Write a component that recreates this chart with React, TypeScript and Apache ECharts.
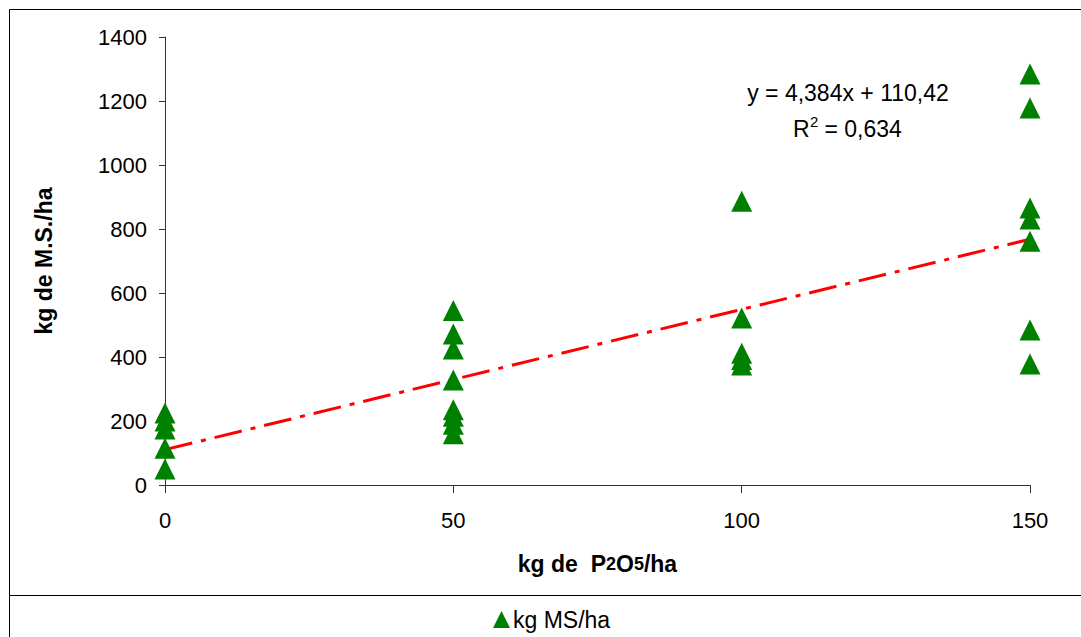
import React, { useEffect, useRef } from "react";
import * as echarts from "echarts";

const xTicks = [0, 50, 100, 150];
const yTicks = [0, 200, 400, 600, 800, 1000, 1200, 1400];
const dose0 = [225, 200, 175, 115, 50];
const dose50 = [545, 472, 425, 328, 235, 215, 190, 160];
const dose100 = [887, 522, 412, 392, 375];
const dose150 = [1284, 1178, 866, 831, 762, 484, 378];
const slope = 4.384;
const intercept = 110.42;
const seriesName = "kg MS/ha";
const eqText = "y = 4,384x + 110,42";
const r2Text = " = 0,634";

const FONT = "Liberation Sans, Arial, sans-serif";

export default function App() {
  const ref = useRef<HTMLDivElement>(null);
  useEffect(() => {
    if (!ref.current) return;
    const chart = echarts.init(ref.current, undefined, { renderer: "svg" });
    const groups = [dose0, dose50, dose100, dose150];
    const points: number[][] = [];
    groups.forEach((vals, i) => vals.forEach((v) => points.push([xTicks[i], v])));
    const xMin = xTicks[0];
    const xMax = xTicks[xTicks.length - 1];
    const trend = [
      [xMin, intercept + slope * xMin],
      [xMax, intercept + slope * xMax],
    ];
    chart.setOption({
      animation: false,
      backgroundColor: "#fff",
      textStyle: { fontFamily: FONT },
      grid: { left: 165, right: 51, top: 37, bottom: 152 },
      xAxis: {
        type: "value",
        min: xMin,
        max: xMax,
        interval: 50,
        name: "kg de  P{s|2}O{s|5}/ha",
        nameLocation: "middle",
        nameGap: 67,
        nameTextStyle: {
          fontFamily: FONT,
          fontSize: 23,
          fontWeight: "bold",
          color: "#000",
          rich: { s: { fontFamily: FONT, fontSize: 18, fontWeight: "bold", color: "#000" } },
        },
        axisLine: { show: true, lineStyle: { color: "#333", width: 1 } },
        axisTick: { show: true, inside: false, length: 8, lineStyle: { color: "#333" } },
        axisLabel: { fontFamily: FONT, fontSize: 22, color: "#000", margin: 24, formatter: (v: number) => String(v) },
        splitLine: { show: false },
      },
      yAxis: {
        type: "value",
        min: yTicks[0],
        max: yTicks[yTicks.length - 1],
        interval: 200,
        name: "kg de M.S./ha",
        nameLocation: "middle",
        nameGap: 110,
        nameTextStyle: { fontFamily: FONT, fontSize: 23, fontWeight: "bold", color: "#000" },
        axisLine: { show: true, lineStyle: { color: "#333", width: 1 } },
        axisTick: { show: true, inside: false, length: 6, lineStyle: { color: "#333" } },
        axisLabel: { fontFamily: FONT, fontSize: 22, color: "#000", margin: 18, formatter: (v: number) => String(v) },
        splitLine: { show: false },
      },
      legend: {
        data: [seriesName],
        icon: "triangle",
        itemWidth: 17,
        itemHeight: 17,
        itemGap: 4,
        left: 488,
        top: 603,
        textStyle: { fontFamily: FONT, fontSize: 23, color: "#000", padding: [0, 0, 0, -2] },
      },
      series: [
        {
          name: seriesName,
          type: "scatter",
          data: points,
          symbol: "triangle",
          symbolSize: [21, 21],
          itemStyle: { color: "#008000", opacity: 1 },
          z: 3,
        },
        {
          name: "trend",
          type: "line",
          data: trend,
          symbol: "none",
          lineStyle: { color: "#ff0000", width: 3, type: [28, 9, 5, 9] },
          z: 2,
        },
      ],
      graphic: [
        {
          type: "rect",
          shape: { x: 9.5, y: 9.5, width: 1200, height: 800 },
          style: { fill: "none", stroke: "#000", lineWidth: 1 },
          silent: true,
        },
        {
          type: "line",
          shape: { x1: 9, y1: 595.5, x2: 1081, y2: 595.5 },
          style: { stroke: "#000", lineWidth: 1 },
          silent: true,
        },
        {
          type: "text",
          x: 848,
          y: 93,
          style: {
            text: eqText,
            font: "23px " + FONT,
            fill: "#000",
            textAlign: "center",
            textVerticalAlign: "middle",
          },
        },
        {
          type: "text",
          x: 793,
          y: 129,
          style: { text: "R", font: "23px " + FONT, fill: "#000", textAlign: "left", textVerticalAlign: "middle" },
        },
        {
          type: "text",
          x: 810,
          y: 121,
          style: { text: "2", font: "15px " + FONT, fill: "#000", textAlign: "left", textVerticalAlign: "middle" },
        },
        {
          type: "text",
          x: 818,
          y: 129,
          style: { text: r2Text, font: "23px " + FONT, fill: "#000", textAlign: "left", textVerticalAlign: "middle" },
        },
      ],
    });
    return () => chart.dispose();
  }, []);
  return (
    <div
      ref={ref}
      style={{ position: "fixed", left: 0, top: 0, width: 1081, height: 637, background: "#fff" }}
    />
  );
}
